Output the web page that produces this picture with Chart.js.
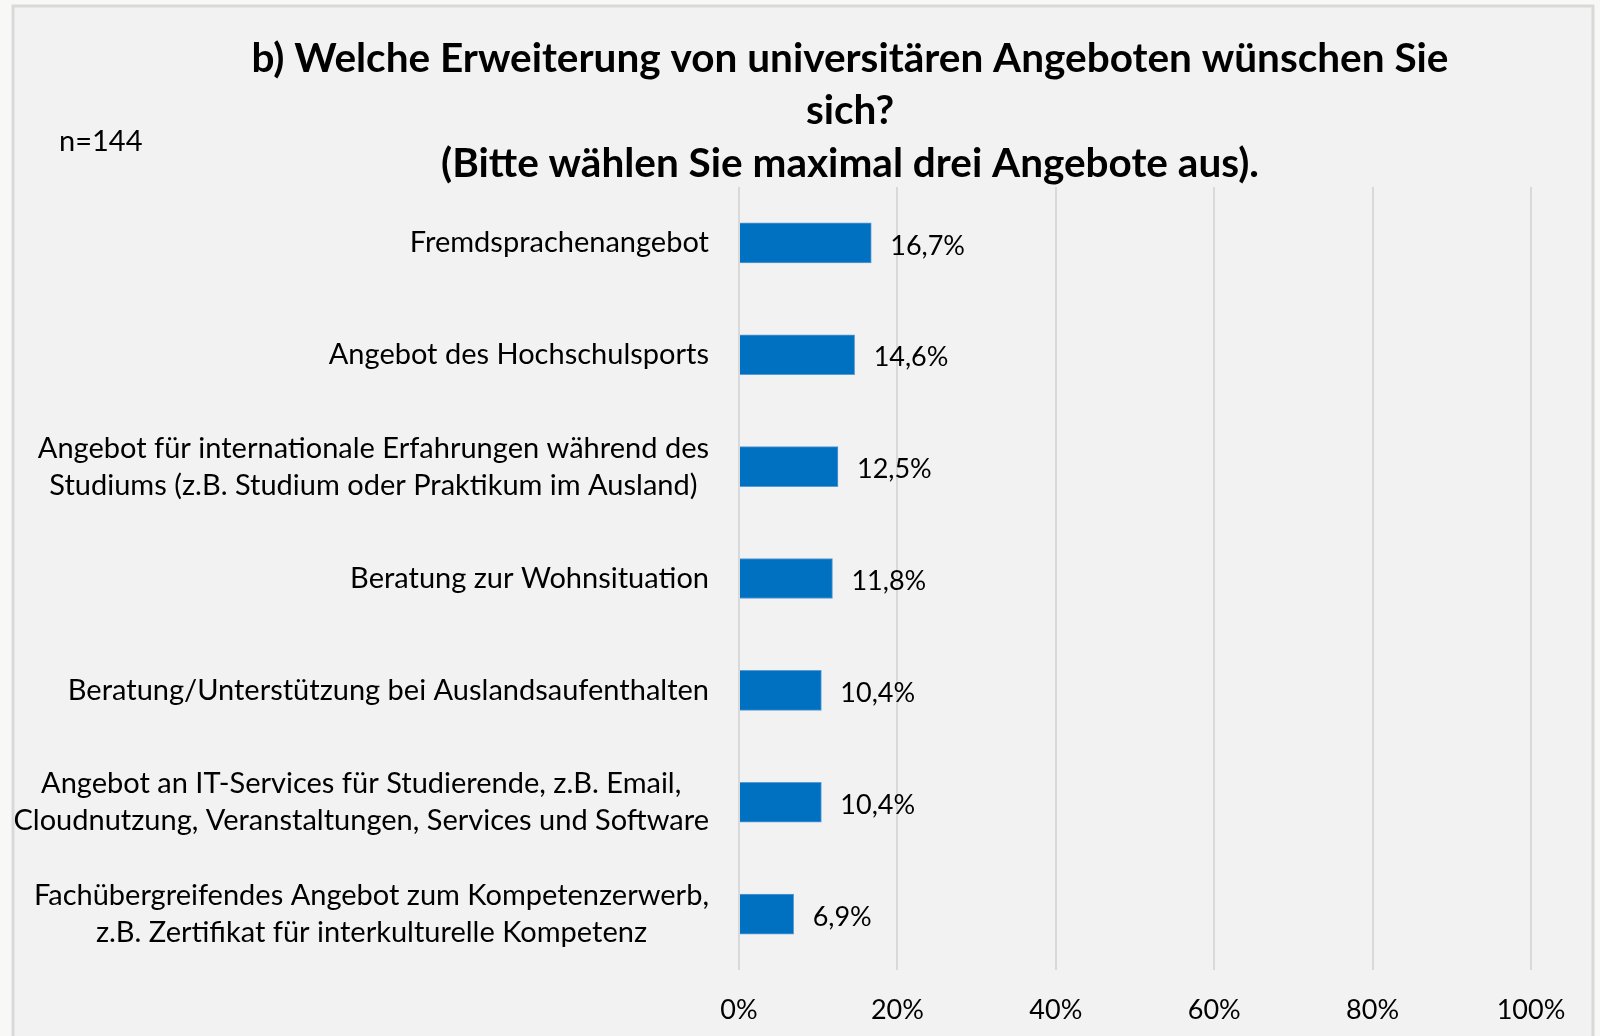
<!DOCTYPE html>
<html lang="de">
<head>
<meta charset="utf-8">
<title>Erweiterung universitärer Angebote</title>
<script src="https://cdn.jsdelivr.net/npm/chart.js@4/dist/chart.umd.min.js"></script>
<style>
  html, body { margin: 0; padding: 0; background: #f8f8f6; }
  #wrap { width: 1600px; height: 1036px; position: relative; }
</style>
</head>
<body>
<div id="wrap"><canvas id="chart" width="1600" height="1036"></canvas></div>
<script>
// Survey answers (share of respondents, percent)
const categories = [
  ["Fremdsprachenangebot"],
  ["Angebot des Hochschulsports"],
  ["Angebot für internationale Erfahrungen während des", "Studiums (z.B. Studium oder Praktikum im Ausland)"],
  ["Beratung zur Wohnsituation"],
  ["Beratung/Unterstützung bei Auslandsaufenthalten"],
  ["Angebot an IT-Services für Studierende, z.B. Email,", "Cloudnutzung, Veranstaltungen, Services und Software"],
  ["Fachübergreifendes Angebot zum Kompetenzerwerb,", "z.B. Zertifikat für interkulturelle Kompetenz"]
];
const shares = [16.7, 14.6, 12.5, 11.8, 10.4, 10.4, 6.9];
const axisTicks = [0, 20, 40, 60, 80, 100];
const titleLines = [
  "b) Welche Erweiterung von universitären Angeboten wünschen Sie",
  "sich?",
  "(Bitte wählen Sie maximal drei Angebote aus)."
];
const sampleNote = "n=144";

const FONT = "Lato, 'Open Sans', sans-serif";
const fmt = v => v.toFixed(1).replace('.', ',') + '%';

// Panel background, frame, heading and sample size
const framePlugin = {
  id: 'frame',
  beforeDraw(chart) {
    const ctx = chart.ctx;
    ctx.save();
    ctx.fillStyle = '#f2f2f2';
    ctx.fillRect(13, 6, 1580, 1040);
    ctx.strokeStyle = '#d9d9d9';
    ctx.lineWidth = 3;
    ctx.strokeRect(13, 6, 1580, 1040);
    ctx.restore();
  },
  afterDraw(chart) {
    const ctx = chart.ctx;
    ctx.save();
    ctx.fillStyle = '#000';
    ctx.textBaseline = 'middle';
    ctx.textAlign = 'center';
    ctx.font = "bold 40.5px " + FONT;
    const ys = [59, 111, 164];
    titleLines.forEach((t, i) => ctx.fillText(t, 850, ys[i]));
    ctx.textAlign = 'left';
    ctx.font = "29px " + FONT;
    ctx.fillText(sampleNote, 59, 142);
    ctx.restore();
  }
};

// Category names: block right-aligned against the axis, lines centred within the block
const categoryLabelPlugin = {
  id: 'categoryLabels',
  afterDraw(chart) {
    const ctx = chart.ctx;
    const yScale = chart.scales.y;
    const right = 709;
    const lh = 37;
    ctx.save();
    ctx.font = "29px " + FONT;
    ctx.fillStyle = '#000';
    ctx.textBaseline = 'middle';
    ctx.textAlign = 'center';
    categories.forEach((lines, i) => {
      const yc = yScale.getPixelForValue(i);
      const w = Math.max(...lines.map(l => ctx.measureText(l).width));
      const cx = right - w / 2;
      const y0 = yc - (lines.length - 1) * lh / 2;
      lines.forEach((l, j) => ctx.fillText(l, cx, y0 + j * lh));
    });
    ctx.restore();
  }
};

// Value labels at the end of each bar
const valueLabelPlugin = {
  id: 'valueLabels',
  afterDatasetsDraw(chart) {
    const ctx = chart.ctx;
    const meta = chart.getDatasetMeta(0);
    ctx.save();
    ctx.font = "27px " + FONT;
    ctx.fillStyle = '#000';
    ctx.textBaseline = 'middle';
    ctx.textAlign = 'left';
    meta.data.forEach((bar, i) => {
      ctx.fillText(fmt(shares[i]), bar.x + 19, bar.y + 3);
    });
    ctx.restore();
  }
};

new Chart(document.getElementById('chart'), {
  type: 'bar',
  data: {
    labels: categories.map(c => c.join(' ')),
    datasets: [{
      data: shares,
      backgroundColor: '#0070c0',
      borderColor: '#5b9bd5',
      borderWidth: 1,
      barThickness: 40
    }]
  },
  options: {
    indexAxis: 'y',
    responsive: false,
    animation: false,
    devicePixelRatio: 1,
    layout: { padding: { left: 0, right: 69, top: 187, bottom: 0 } },
    plugins: {
      legend: { display: false },
      tooltip: { enabled: false },
      title: { display: false }
    },
    scales: {
      x: {
        min: 0,
        max: 100,
        afterBuildTicks(scale) { scale.ticks = axisTicks.map(v => ({ value: v })); },
        afterFit(scale) { scale.height = 66; },
        grid: { color: '#d9d9d9', lineWidth: 2, drawTicks: false },
        border: { display: false },
        ticks: {
          padding: 24,
          color: '#000',
          font: { family: FONT, size: 27 },
          callback: v => v + '%'
        }
      },
      y: {
        afterFit(scale) { scale.width = 739; },
        grid: { display: false },
        border: { display: false },
        ticks: { display: false }
      }
    }
  },
  plugins: [framePlugin, categoryLabelPlugin, valueLabelPlugin]
});
</script>
</body>
</html>
